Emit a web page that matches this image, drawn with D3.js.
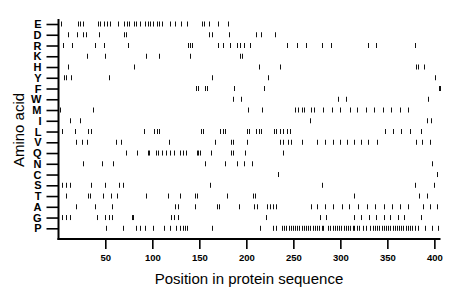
<!DOCTYPE html>
<html><head><meta charset="utf-8">
<script src="https://cdn.jsdelivr.net/npm/d3@7"></script>
<style>body{margin:0;background:#fff}svg{display:block}</style>
</head><body><svg id="c" width="460" height="299"></svg>
<script>
const aminoAcids = ["E","D","R","K","H","Y","F","W","M","I","L","V","Q","N","C","S","T","A","G","P"];
const xTicks = [50,100,150,200,250,300,350,400];
const posE = [3,20.6,23,26,42,44,49,52,55,63,70,73,75.5,80,83,87,92.5,95,98,101,105,107.5,110,119,124,130,137,152.5,155,160.6,170,180];
const posD = [10,20,26.5,29,43,70,71.7,160,164,181.6,210,215.6,230];
const posR = [4.7,15,39,49,74,138,140,142,170,175,183,190,193,198,204,243,254,264,281,290,329,338,379];
const posK = [30,50,93,107,140,193,195];
const posH = [10,80,213,236,380,383,389];
const posY = [6,8.5,13.5,54,163,223,401];
const posF = [146,148.4,156.5,158.5,186.5,218.7,405,406.5];
const posW = [186,194,297,306,393];
const posM = [2,37,202,217,252,255,259,261,269,272,282,291,300,310,318,327,336,345,354,363,372];
const posI = [12.4,23,268,392,396.5];
const posL = [3.6,17.8,32,34.5,91,102,104.5,107,151.5,153.6,172,175,177,201,203,210,213,215.6,229,232,236,239,243,246.5,347.5,356,365,374,385.5];
const posV = [18.8,25,31,61.4,66.4,118,166.7,183.4,185.5,200.4,236,238.7,244.7,247,259,275.5,283.7,292,299.7,307.4,314,321.7,329.8,339.4,380.5,386.6,395.4];
const posQ = [72,84,95,97,104,106.4,110,114.6,119,123,129.5,133,136,147,149,151,162,183.4,186,198.6,239];
const posN = [26.6,46,58.5,156,177,190,197.5,205.7,398];
const posC = [234,403];
const posS = [3.6,8.2,12.4,34.5,49.7,65,68.5,161,280,379.5,399.7];
const posT = [8.2,32,33.7,48,55.7,62.7,93,117,129.5,145.4,147.2,179,207.4,209,314,384,392.5];
const posA = [18.8,39,56.8,124,127.7,145.4,168.5,171,192,208,211,221.7,225,228,231.6,268.5,275,283.7,292,301.5,309.6,319,328,337,346.5,354.7,363.5,372.3,387.7,395.4,402.5];
const posG = [3.6,8.2,12.4,41,49.7,54.3,57,78,79.3,119.6,123,127,221,278,285,315,322,330,338,346,353,361,368,386];
const posP = [50.7,68.5,82.7,87,92.5,101,112.8,118.8,125,129.5,132.4,134.8,136.6,164,214.6,228,231.6,
  238,240,242.5,245,247,249.5,252,254,256.5,259,261,263.5,266,268,270.5,273,275,277.5,280,282,
  287,289.5,292,294,296.5,299,301,303.5,306,308,310.5,313,315,317.5,320,324,327,
  332,334.5,337,339,341.5,344,346,348.5,351,353,355.5,358,360,362.5,365,367,369.5,372,374,376.5,379,
  383,390,397,404];
const rows = [posE,posD,posR,posK,posH,posY,posF,posW,posM,posI,posL,posV,posQ,posN,posC,posS,posT,posA,posG,posP];

const svg = d3.select("#c");
const x = d3.scaleLinear().domain([0,406]).range([58.3,440]);
const y = d3.scalePoint().domain(aminoAcids).range([24,228.3]);
const font = "'Liberation Sans', Arial, sans-serif";

const marks = [];
rows.forEach((r,i)=>r.forEach(p=>marks.push({aa:aminoAcids[i],p})));
svg.append("g").selectAll("line").data(marks).join("line")
  .attr("x1",d=>Math.round(x(d.p))+0.5).attr("x2",d=>Math.round(x(d.p))+0.5)
  .attr("y1",d=>y(d.aa)-2.5).attr("y2",d=>y(d.aa)+2.5)
  .attr("stroke","#111").attr("stroke-width",1);

// y axis
const ya = svg.append("g").attr("transform","translate(58.5,0)")
  .call(d3.axisLeft(y).tickSize(12).tickPadding(5));
ya.select(".domain").remove();
ya.selectAll(".tick line").attr("stroke","#000").attr("stroke-width",1.6);
ya.selectAll("text").attr("font-family",font).attr("font-size",11).attr("font-weight","bold").attr("fill","#000");
svg.append("line").attr("x1",58.5).attr("x2",58.5).attr("y1",19).attr("y2",240).attr("stroke","#000").attr("stroke-width",2);

// x axis
const xa = svg.append("g").attr("transform","translate(0,239)")
  .call(d3.axisBottom(x).tickValues(xTicks).tickSize(10).tickPadding(5));
xa.select(".domain").remove();
xa.selectAll(".tick line").attr("stroke","#000").attr("stroke-width",1.6);
xa.selectAll("text").attr("font-family",font).attr("font-size",9.5).attr("font-weight","bold").attr("fill","#000");
svg.append("line").attr("x1",57.5).attr("x2",440.5).attr("y1",239).attr("y2",239).attr("stroke","#000").attr("stroke-width",2);

svg.append("text").attr("x",249).attr("y",284).attr("text-anchor","middle")
  .attr("font-family",font).attr("font-size",15).attr("fill","#000").text("Position in protein sequence");
svg.append("text").attr("transform","translate(24,130) rotate(-90)").attr("text-anchor","middle")
  .attr("font-family",font).attr("font-size",15).attr("fill","#000").text("Amino acid");
</script></body></html>
